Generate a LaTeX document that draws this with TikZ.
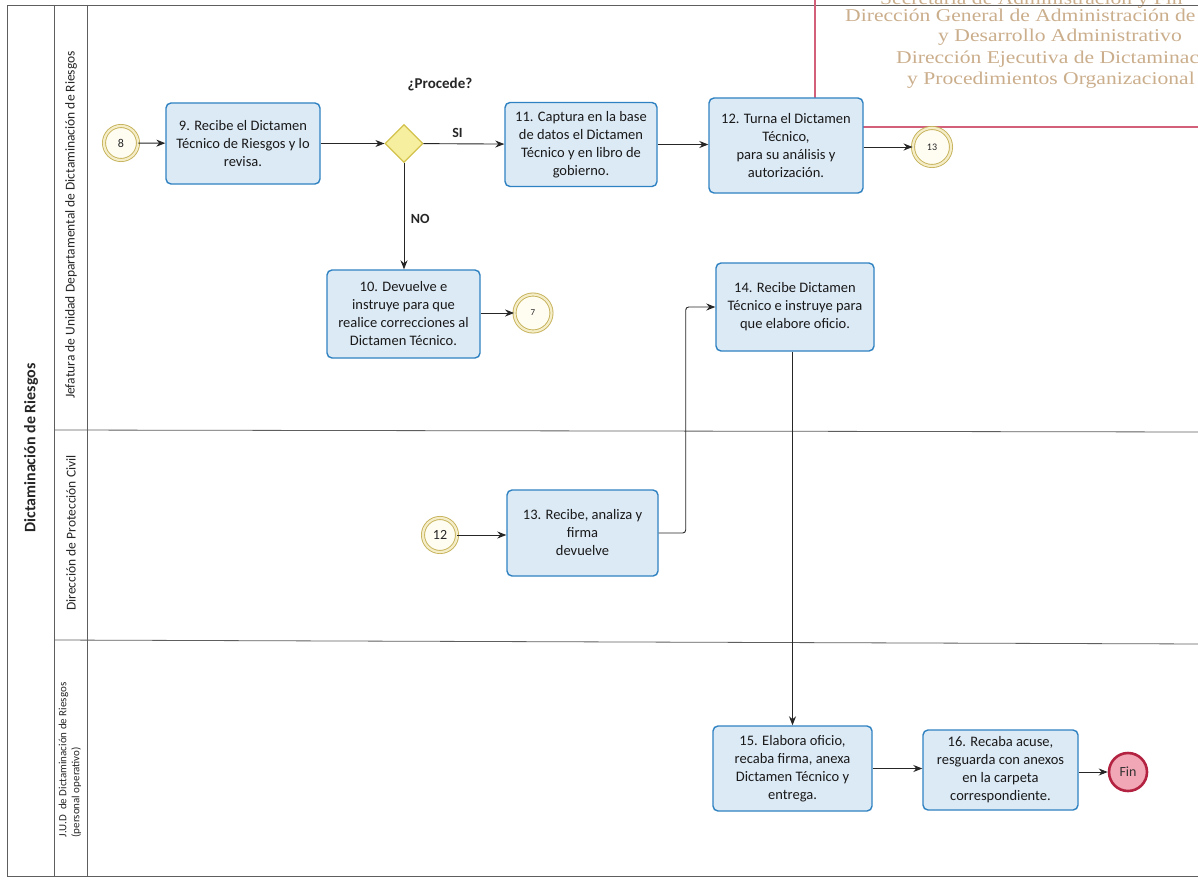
\documentclass[tikz,border=0pt]{standalone}
\usepackage{fontspec}
\setmainfont{Carlito}
\newfontfamily\stampfont[FakeStretch=1.2]{Liberation Serif}
\usetikzlibrary{shapes.geometric,arrows.meta}
\definecolor{taskblue}{HTML}{2F82C2}
\definecolor{taskfill}{HTML}{DCEAF6}
\definecolor{gold}{HTML}{C6B25A}
\definecolor{goldlight}{HTML}{F4EDC8}
\definecolor{cream}{HTML}{FFFDF2}
\definecolor{gwfill}{HTML}{F6EFA0}
\definecolor{gwline}{HTML}{D2C24C}
\definecolor{finfill}{HTML}{F2A7B6}
\definecolor{finline}{HTML}{B32240}
\definecolor{stampline}{HTML}{D2607A}
\definecolor{stamptext}{HTML}{CBAE8C}
\definecolor{laneline}{HTML}{5E5E5E}
\begin{document}
\begin{tikzpicture}[x=1pt,y=-1pt,
  task/.style 2 args={draw=taskblue, fill=taskfill, line width=1.4pt, rounded corners=5pt,
    align=center, font=\fontsize{14.5}{18}\selectfont, text=black!90, inner sep=2pt,
    minimum width=#1, minimum height=#2},
  event/.style={circle, draw=gold, double=goldlight, double distance=2.2pt, line width=0.9pt,
    fill=cream, inner sep=0pt, text=black!85, minimum size=#1},
  gateway/.style={diamond, draw=gwline, fill=gwfill, line width=1.2pt, inner sep=0pt,
    minimum width=38pt, minimum height=38pt},
  endev/.style={circle, draw=finline, fill=finfill, line width=2.6pt, inner sep=0pt,
    minimum size=38pt, font=\fontsize{14}{16}\selectfont, text=black!80},
  conn/.style={draw=black!85, line width=0.9pt, -{Stealth[length=9pt,width=7pt]}},
  lbl/.style={font=\fontsize{14}{16}\selectfont\bfseries, text=black!85},
  lane/.style={draw=laneline, line width=0.8pt},
  lanetext/.style={rotate=90, text=black!85},
  stamp/.style={anchor=base west, text=stamptext, font=\stampfont\fontsize{18}{21}\selectfont, inner sep=0pt}
]
\useasboundingbox (0,0) rectangle (1198,880);
\clip (0,0) rectangle (1198,880);
\fill[white] (0,0) rectangle (1198,880);

% stamp
\node[stamp] (s1) at (880,5) {Secretaría de Administración y Fin};
\node[stamp] (s2) at (845,22) {Dirección General de Administración de};
\node[stamp] (s3) at (938,42) {y Desarrollo Administrativo};
\node[stamp] (s4) at (896,64) {Dirección Ejecutiva de Dictaminac};
\node[stamp] (s5) at (907,85) {y Procedimientos Organizacional};

% frame
\draw[lane] (1205,5) -- (7,5) -- (7,876) -- (1205,876);
\draw[lane] (54,5) -- (54,876);
\draw[lane] (87,5) -- (87,876);
\draw[lane] (54,430) -- (1205,432);
\draw[lane] (54,640) -- (1205,644);
\draw[stampline, line width=1.1pt] (815,-5) -- (815,127) -- (1210,127);

% lane labels
\node[lanetext, font=\fontsize{16}{18}\selectfont\bfseries] (pool) at (31,448) {Dictaminación de Riesgos};
\node[lanetext, font=\fontsize{13.5}{15}\selectfont] (l1) at (71,225) {Jefatura de Unidad Departamental de Dictaminación de Riesgos};
\node[lanetext, font=\fontsize{13.5}{15}\selectfont] (l2) at (71,533) {Dirección de Protección Civil};
\node[lanetext, font=\fontsize{11}{13}\selectfont, align=left] (l3) at (70,760) {J.U.D \ de Dictaminación de Riesgos\\(personal operativo)};

% nodes
\node[event=34pt, font=\fontsize{12}{14}\selectfont] (e8) at (121,143) {8};
\node[task={154pt}{81pt}] (t9) at (243,143.5) {9. Recibe el Dictamen\\Técnico de Riesgos y lo\\revisa.};
\node[gateway] (gw) at (404,143.5) {};
\node[lbl, font=\fontsize{15}{17}\selectfont\bfseries] (proc) at (440,84) {¿Procede?};
\node[task={152pt}{84pt}] (t11) at (581,144.5) {11. Captura en la base\\de datos el Dictamen\\Técnico y en libro de\\gobierno.};
\node[task={154pt}{95pt}] (t12) at (786,145.5) {12. Turna el Dictamen\\Técnico,\\para su análisis y\\autorización.};
\node[event=38pt, font=\fontsize{10}{12}\selectfont] (e13) at (932,147) {13};
\node[task={153pt}{88pt}] (t10) at (403.5,314) {10. Devuelve e\\instruye para que\\realice correcciones al\\Dictamen Técnico.};
\node[event=37pt, font=\fontsize{9}{11}\selectfont] (e7) at (533,313) {7};
\node[task={158pt}{88pt}] (t14) at (795,307) {14. Recibe Dictamen\\Técnico e instruye para\\que elabore oficio.};
\node[event=34pt, font=\fontsize{14}{16}\selectfont] (e12) at (440,535) {\raisebox{-3pt}{12}};
\node[task={151pt}{86pt}] (t13) at (582.5,533) {13. Recibe, analiza y\\firma\\devuelve};
\node[task={159pt}{85pt}] (t15) at (792.5,768.5) {15. Elabora oficio,\\recaba firma, anexa\\Dictamen Técnico y\\entrega.};
\node[task={155pt}{80pt}] (t16) at (1000.5,770) {16. Recaba acuse,\\resguarda con anexos\\en la carpeta\\correspondiente.};
\node[endev] (fin) at (1128,772) {Fin};

% connectors
\draw[conn] (e8) -- (t9);
\draw[conn] (t9) -- (gw);
\draw[conn] (gw) -- (t11) node[lbl, pos=0.42, above=2pt] (si) {SI};
\draw[conn] (t11.east) -- (t11.east -| t12.west);
\draw[conn] (e13.west -| t12.east) -- (e13.west);
\draw[conn] (gw.south) -- (gw.south |- t10.north) node[lbl, pos=0.53, right=3pt] (no) {NO};
\draw[conn] (t10.east |- e7.west) -- (e7.west);
\draw[conn] (e12.east) -- (e12.east -| t13.west);
\draw[conn, rounded corners=3pt] (t13.east) -- ++(27,0) |- (t14.west);
\draw[conn] (t15.north |- t14.south) -- (t15.north);
\draw[conn] (t15.east) -- (t15.east -| t16.west);
\draw[conn] (t16.east |- fin.west) -- (fin.west);
\end{tikzpicture}
\end{document}
